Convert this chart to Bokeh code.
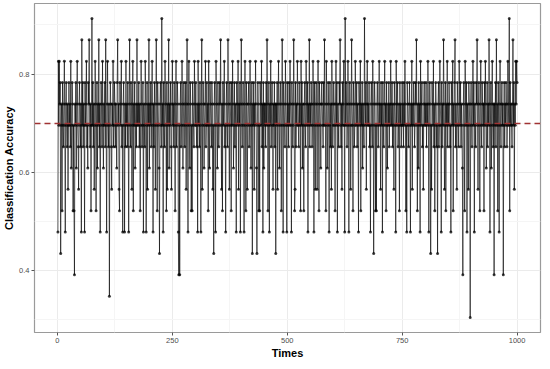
from bokeh.plotting import figure
from bokeh.models import Range1d, FixedTicker, ColumnDataSource
from bokeh.embed import file_html
from bokeh.resources import INLINE

# number of correctly classified samples out of 23 test samples, per run
test_size = 23
correct = [
    11,19,16,19,17,18,10,16,17,12,18,16,15,17,19,16,11,17,18,16,15,17,13,16,18,
    16,17,15,19,14,16,18,17,12,16,12,9,17,16,18,14,17,19,16,15,13,17,18,16,15,
    17,11,20,16,18,15,17,16,11,18,16,17,19,15,16,14,18,17,20,16,15,17,12,16,21,
    16,18,15,17,13,16,19,17,12,16,18,14,17,16,20,15,17,11,16,18,17,15,19,16,14,
    17,16,18,15,20,16,11,17,19,16,15,17,8,16,18,17,15,13,17,16,19,15,16,18,17,
    15,17,16,14,18,20,16,17,13,12,18,16,17,19,15,16,11,17,18,16,11,17,15,19,16,
    17,15,18,16,11,17,20,16,15,18,17,13,16,19,12,17,16,18,14,16,17,15,20,16,17,
    16,18,15,17,12,16,19,17,15,16,18,11,17,16,15,19,17,11,16,18,13,17,16,20,14,
    17,16,18,15,17,19,16,11,17,15,18,16,13,17,20,16,12,18,17,16,14,10,17,18,16,
    15,21,16,17,11,18,16,15,19,17,16,12,18,13,17,16,20,14,17,16,18,15,13,17,19,
    16,17,15,18,16,12,17,19,15,16,18,17,11,9,16,9,17,18,15,16,19,17,14,16,18,
    17,15,16,18,13,17,20,16,11,17,19,16,14,18,17,12,16,12,18,17,16,15,19,17,16,
    18,16,15,17,11,19,16,17,15,18,16,11,17,20,13,16,18,17,14,16,17,19,15,16,18,
    16,17,12,19,16,14,18,17,16,15,18,17,13,16,10,17,18,16,11,19,17,16,14,18,17,
    15,16,18,17,20,16,13,17,12,18,16,17,19,15,16,11,17,18,16,15,20,17,16,13,18,
    17,16,12,18,16,19,17,14,16,18,15,17,16,11,18,17,16,19,13,17,16,18,11,17,20,
    16,15,17,18,16,11,17,19,16,12,18,17,13,16,17,18,15,16,19,17,14,16,18,10,17,
    16,18,13,17,16,19,17,14,10,16,18,17,12,16,12,18,17,16,19,15,17,11,18,14,17,
    16,17,15,18,16,20,17,12,16,18,11,17,16,19,15,17,18,16,13,17,16,18,15,17,10,
    17,16,18,13,17,19,16,14,17,18,16,12,17,20,16,11,18,17,16,15,19,17,16,11,18,
    16,17,15,18,16,19,17,16,11,18,17,15,16,20,17,12,13,18,15,17,16,19,17,16,15,
    18,16,17,12,19,16,18,14,17,16,12,17,18,16,15,19,17,16,18,11,17,16,20,15,17,
    16,18,17,15,16,19,17,11,18,16,13,17,18,16,13,17,19,16,12,18,17,16,14,17,18,
    17,16,15,18,16,20,17,16,12,19,17,14,16,18,17,11,16,18,15,17,13,19,17,15,16,
    18,17,16,12,17,19,16,18,11,17,16,15,18,17,20,16,15,17,13,18,16,17,19,16,11,
    21,16,18,17,15,16,19,17,11,16,18,17,13,16,20,17,16,12,18,17,15,16,19,17,16,
    18,15,17,16,11,18,17,16,19,12,17,16,18,14,17,16,15,21,17,16,18,13,17,19,16,
    17,16,18,15,16,11,17,18,16,15,19,17,10,16,18,17,12,16,12,17,18,16,15,17,19,
    16,17,13,18,16,17,11,18,16,15,17,19,16,17,12,18,16,14,17,16,18,15,17,16,19,
    17,16,18,15,17,16,13,18,17,16,11,19,16,17,18,15,16,17,12,18,16,17,15,16,18,
    16,17,15,18,16,19,17,12,16,11,18,17,16,15,17,18,16,11,17,16,19,13,17,16,18,
    17,15,16,18,17,20,16,12,17,14,18,16,17,11,19,16,17,18,15,16,13,17,18,16,17,
    16,18,15,17,16,19,17,11,16,18,17,10,16,13,18,17,16,19,15,17,12,16,18,17,15,
    16,10,17,18,15,16,19,17,16,11,18,15,17,16,20,17,13,16,18,12,17,16,19,15,17,
    16,18,17,15,16,11,18,17,16,19,12,17,16,18,20,15,17,16,13,18,17,16,15,19,17,
    16,18,15,17,16,14,9,17,18,16,12,19,17,16,18,11,17,16,13,18,17,16,7,17,18,
    16,15,17,19,16,18,11,17,16,15,18,17,20,16,13,17,18,16,12,17,19,16,15,18,17,
    16,17,12,18,16,19,17,14,16,18,15,17,16,20,17,11,16,18,14,17,19,16,15,17,9,
    17,16,18,15,20,16,17,12,18,16,11,17,19,16,15,17,18,16,17,9,16,18,15,17,16,
    18,17,15,16,19,17,16,21,12,18,16,17,16,15,17,20,16,18,13,17,16,19,17,19,18,
]
times = list(range(1, len(correct) + 1))
accuracy = [c / test_size for c in correct]
mean_accuracy = 0.6992

x_ticks = [0, 250, 500, 750, 1000]
x_minor = [125, 375, 625, 875]
y_ticks = [0.4, 0.6, 0.8]
y_minor = [0.3, 0.5, 0.7, 0.9]

src = ColumnDataSource(dict(t=times, acc=accuracy))

p = figure(width=542, height=361, output_backend="svg", toolbar_location=None,
           x_range=Range1d(-49.95, 1050.95), y_range=Range1d(0.2739, 0.9435),
           min_border_top=3, min_border_right=2, min_border_left=0, min_border_bottom=0)
p.background_fill_color = "white"
p.border_fill_color = "white"
p.outline_line_color = "#9a9a9a"
p.outline_line_width = 1.2

p.xaxis.ticker = FixedTicker(ticks=x_ticks, minor_ticks=x_minor)
p.yaxis.ticker = FixedTicker(ticks=y_ticks, minor_ticks=y_minor)
p.xgrid.grid_line_color = "#ebebeb"
p.ygrid.grid_line_color = "#ebebeb"
p.xgrid.minor_grid_line_color = "#f5f5f5"
p.ygrid.minor_grid_line_color = "#f5f5f5"

for ax in (p.xaxis, p.yaxis):
    ax.axis_line_color = None
    ax.major_tick_line_color = "#555555"
    ax.major_tick_out = 3
    ax.major_tick_in = 0
    ax.minor_tick_line_color = None
    ax.major_label_text_font = "Liberation Sans"
    ax.major_label_text_font_size = "7.5px"
    ax.major_label_text_color = "#4d4d4d"
    ax.major_label_standoff = 1
    ax.axis_label_text_font = "Liberation Sans"
    ax.axis_label_text_font_style = "bold"
    ax.axis_label_text_font_size = "11px"
    ax.axis_label_text_color = "black"
    ax.axis_label_standoff = 1
p.yaxis.formatter.use_scientific = False
p.xaxis.axis_label = "Times"
p.yaxis.axis_label = "Classification Accuracy"

p.line("t", "acc", source=src, line_color="black", line_alpha=0.7, line_width=0.9)
p.scatter("t", "acc", source=src, size=3, fill_color="black", fill_alpha=0.75, line_color=None)
p.line(x=[-49.95, 1050.95], y=[mean_accuracy, mean_accuracy], line_color="#a03232",
       line_width=1.6, line_dash="6 4")

open("out.html", "w").write(file_html(p, INLINE))
